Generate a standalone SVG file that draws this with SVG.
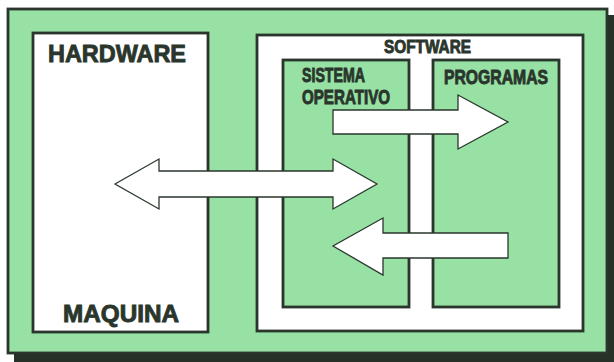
<svg xmlns="http://www.w3.org/2000/svg" width="614" height="362" viewBox="0 0 614 362">
  <style>
    .frame { stroke: #2a362c; stroke-width: 2.8; }
    .panel { fill: #ffffff; }
    .green { fill: #97e1a5; }
    .arrow { fill: #ffffff; stroke: #2a362c; stroke-width: 1.3; stroke-linejoin: miter; }
    .lbl { font-family: "Liberation Sans", Arial, sans-serif; font-weight: bold; fill: #2a362c; stroke: #2a362c; stroke-width: 0.9; }
    .big { font-size: 24px; }
    .mid { font-size: 19.5px; }
    .small { font-size: 18px; }
  </style>

  <!-- drop shadow and outer board -->
  <rect x="14" y="15" width="600" height="347" fill="#263128"/>
  <rect x="8" y="9" width="599" height="344" class="green frame"/>

  <!-- HARDWARE / MAQUINA panel -->
  <g id="hardware">
    <rect x="33" y="33" width="175" height="299" class="panel frame"/>
    <text x="48" y="62" class="lbl big" textLength="138" lengthAdjust="spacingAndGlyphs">HARDWARE</text>
    <text x="63" y="322" class="lbl big" textLength="116" lengthAdjust="spacingAndGlyphs">MAQUINA</text>
  </g>

  <!-- SOFTWARE panel -->
  <g id="software">
    <rect x="257" y="35" width="326" height="296" class="panel frame"/>
    <text x="384" y="52.5" class="lbl small" textLength="87" lengthAdjust="spacingAndGlyphs">SOFTWARE</text>
  </g>

  <!-- operating system block -->
  <g id="sistema-operativo">
    <rect x="283" y="60" width="126" height="247" class="green frame"/>
    <text x="302" y="82" class="lbl mid" textLength="63" lengthAdjust="spacingAndGlyphs">SISTEMA</text>
    <text x="302" y="103.5" class="lbl mid" textLength="88" lengthAdjust="spacingAndGlyphs">OPERATIVO</text>
  </g>

  <!-- programs block -->
  <g id="programas">
    <rect x="433" y="60" width="126" height="247" class="green frame"/>
    <text x="444" y="84" class="lbl mid" textLength="104" lengthAdjust="spacingAndGlyphs">PROGRAMAS</text>
  </g>

  <!-- flow arrows -->
  <g id="connectors">
    <!-- operating system to programs -->
    <path class="arrow" d="M333,110 H458 V95 L508,122 L458,149 V134 H333 Z"/>
    <!-- hardware to/from operating system -->
    <path class="arrow" d="M115,184 L159,159 V171 H333 V159 L377,184 L333,209 V197 H159 V209 Z"/>
    <!-- programs to operating system -->
    <path class="arrow" d="M508,233 H383 V218 L333,246 L383,275 V258 H508 Z"/>
  </g>
</svg>
